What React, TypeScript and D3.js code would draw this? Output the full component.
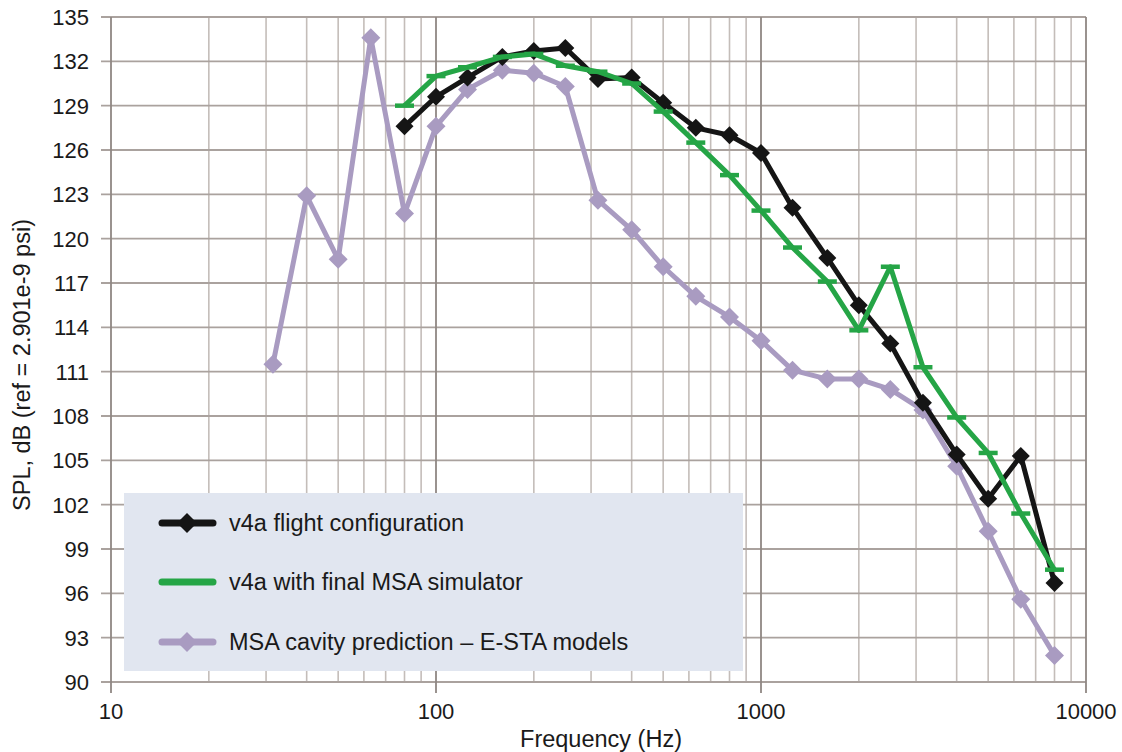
import React, { useEffect, useRef } from 'react';
import * as d3 from 'd3';

// 1/3 octave band centre frequencies (Hz)
const freqs = [31.5, 40, 50, 63, 80, 100, 125, 160, 200, 250, 315, 400, 500, 630, 800, 1000, 1250, 1600, 2000, 2500, 3150, 4000, 5000, 6300, 8000];

// v4a flight configuration (starts at 80 Hz)
const flightFreqs = freqs.slice(4);
const flightSpl = [127.6, 129.6, 130.9, 132.3, 132.7, 132.9, 130.8, 130.9, 129.2, 127.5, 127.0, 125.8, 122.1, 118.7, 115.5, 112.9, 108.9, 105.4, 102.4, 105.3, 96.7];

// v4a with final MSA simulator (starts at 80 Hz)
const simFreqs = freqs.slice(4);
const simSpl = [129.0, 131.0, 131.6, 132.3, 132.5, 131.7, 131.3, 130.5, 128.6, 126.5, 124.3, 121.9, 119.4, 117.1, 113.8, 118.1, 111.3, 107.9, 105.5, 101.4, 97.6];

// MSA cavity prediction – E-STA models
const cavityFreqs = freqs;
const cavitySpl = [111.5, 122.9, 118.6, 133.6, 121.7, 127.6, 130.1, 131.4, 131.2, 130.3, 122.6, 120.6, 118.1, 116.1, 114.7, 113.1, 111.1, 110.5, 110.5, 109.8, 108.4, 104.6, 100.2, 95.6, 91.8];

const yTicks = d3.range(90, 136, 3);
const xMajor = [10, 100, 1000, 10000];
const legendLabels = ['v4a flight configuration', 'v4a with final MSA simulator', 'MSA cavity prediction \u2013 E-STA models'];

const BLACK = '#151515';
const GREEN = '#25a546';
const PURPLE = '#a99bc1';

function App() {
  const svgRef = useRef<SVGSVGElement>(null);

  useEffect(() => {
    const svg = d3.select(svgRef.current);
    svg.selectAll('*').remove();

    const width = 1122, height = 752;
    const left = 111, right = 1086, top = 17, bottom = 682;
    const font = 'Liberation Sans, Arial, sans-serif';

    const x = d3.scaleLog().domain([10, 10000]).range([left, right]);
    const y = d3.scaleLinear().domain([90, 135]).range([bottom, top]);

    svg.append('rect').attr('width', width).attr('height', height).attr('fill', '#ffffff');

    // minor vertical grid
    const minor: number[] = [];
    for (let dec = 10; dec < 10000; dec *= 10) {
      for (let k = 2; k <= 9; k++) minor.push(dec * k);
    }
    svg.append('g').selectAll('line').data(minor).enter().append('line')
      .attr('x1', d => x(d)).attr('x2', d => x(d))
      .attr('y1', top).attr('y2', bottom)
      .attr('stroke', '#c4bdb9').attr('stroke-width', 1.6);

    // horizontal grid + ticks
    svg.append('g').selectAll('line').data(yTicks).enter().append('line')
      .attr('x1', left - 10).attr('x2', right)
      .attr('y1', d => y(d)).attr('y2', d => y(d))
      .attr('stroke', '#aaa29e').attr('stroke-width', 1.8);

    // major vertical grid + ticks
    svg.append('g').selectAll('line').data(xMajor).enter().append('line')
      .attr('x1', d => x(d)).attr('x2', d => x(d))
      .attr('y1', top).attr('y2', bottom + 11)
      .attr('stroke', '#8f8783').attr('stroke-width', 1.8);

    // y tick labels
    svg.append('g').selectAll('text').data(yTicks).enter().append('text')
      .attr('x', 89).attr('y', d => y(d) + 8)
      .attr('text-anchor', 'end')
      .attr('font-family', font).attr('font-size', 22).attr('fill', '#1a1a1a')
      .text(d => d);

    // x tick labels
    svg.append('g').selectAll('text').data(xMajor).enter().append('text')
      .attr('x', d => x(d)).attr('y', 719)
      .attr('text-anchor', 'middle')
      .attr('font-family', font).attr('font-size', 22).attr('fill', '#1a1a1a')
      .text(d => d);

    svg.append('text')
      .attr('x', 601).attr('y', 747)
      .attr('text-anchor', 'middle')
      .attr('font-family', font).attr('font-size', 23.5).attr('fill', '#1a1a1a')
      .text('Frequency (Hz)');

    svg.append('text')
      .attr('transform', 'translate(30,365) rotate(-90)')
      .attr('text-anchor', 'middle')
      .attr('font-family', font).attr('font-size', 23.5).attr('fill', '#1a1a1a')
      .text('SPL, dB (ref = 2.901e-9 psi)');

    const line = d3.line<[number, number]>().x(d => x(d[0])).y(d => y(d[1]));
    const diamond = (g: any, px: number, py: number, r: number, color: string) =>
      g.append('path')
        .attr('d', `M${px},${py - r}L${px + r},${py}L${px},${py + r}L${px - r},${py}Z`)
        .attr('fill', color);

    // purple series
    const cavity = cavityFreqs.map((f, i) => [f, cavitySpl[i]] as [number, number]);
    svg.append('path').datum(cavity).attr('d', line)
      .attr('fill', 'none').attr('stroke', PURPLE).attr('stroke-width', 5).attr('stroke-linejoin', 'round');
    const gp = svg.append('g');
    cavity.forEach(d => diamond(gp, x(d[0]), y(d[1]), 9.5, PURPLE));

    // black series
    const flight = flightFreqs.map((f, i) => [f, flightSpl[i]] as [number, number]);
    svg.append('path').datum(flight).attr('d', line)
      .attr('fill', 'none').attr('stroke', BLACK).attr('stroke-width', 5).attr('stroke-linejoin', 'round');
    const gb = svg.append('g');
    flight.forEach(d => diamond(gb, x(d[0]), y(d[1]), 9, BLACK));

    // green series
    const sim = simFreqs.map((f, i) => [f, simSpl[i]] as [number, number]);
    svg.append('path').datum(sim).attr('d', line)
      .attr('fill', 'none').attr('stroke', GREEN).attr('stroke-width', 5).attr('stroke-linejoin', 'round');
    svg.append('g').selectAll('line').data(sim).enter().append('line')
      .attr('x1', d => x(d[0]) - 9.5).attr('x2', d => x(d[0]) + 9.5)
      .attr('y1', d => y(d[1])).attr('y2', d => y(d[1]))
      .attr('stroke', GREEN).attr('stroke-width', 4.5);

    // legend
    const lg = svg.append('g');
    lg.append('rect').attr('x', 124).attr('y', 493).attr('width', 619).attr('height', 178).attr('fill', '#e1e6f0');
    const legendColors = [BLACK, GREEN, PURPLE];
    const legendY = [523, 582, 642];
    legendLabels.forEach((label, i) => {
      const ly = legendY[i];
      lg.append('line').attr('x1', 162).attr('x2', 213).attr('y1', ly).attr('y2', ly)
        .attr('stroke', legendColors[i]).attr('stroke-width', 7).attr('stroke-linecap', 'round');
      if (i !== 1) diamond(lg, 187, ly, 10, legendColors[i]);
      lg.append('text').attr('x', 229).attr('y', ly + 8)
        .attr('font-family', font).attr('font-size', 23.5).attr('fill', '#1a1a1a')
        .text(label);
    });
  }, []);

  return (
    <svg ref={svgRef} width={1122} height={752}
      style={{ position: 'absolute', left: 0, top: 0, display: 'block' }} />
  );
}

export default App;
